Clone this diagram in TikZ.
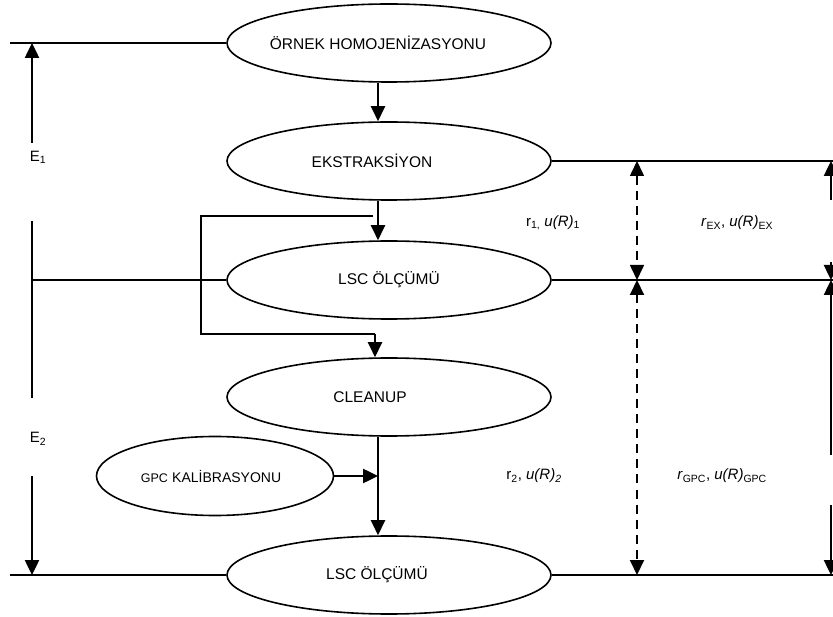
\documentclass[tikz,border=0pt]{standalone}
\usepackage{fontspec}
\setmainfont{Liberation Sans}
\usetikzlibrary{shapes.geometric,arrows.meta}
\begin{document}
\begin{tikzpicture}[x=1pt,y=-1pt,
  ell/.style={ellipse,draw,line width=1.6pt,minimum width=324pt,minimum height=78pt,inner sep=0pt},
  txt/.style={font=\fontsize{15.5}{18}\selectfont,inner sep=0pt},
  lbl/.style={font=\fontsize{15}{18}\selectfont,inner sep=0pt},
  ln/.style={line width=1.6pt},
  arr/.style={line width=2.5pt,-{Triangle[length=15pt,width=14pt]}},
  darr/.style={line width=2pt,dash pattern=on 9pt off 6pt,{Triangle[length=15pt,width=14pt]}-{Triangle[length=15pt,width=14pt]}}]
\fill[white] (0,0) rectangle (833,617);
\useasboundingbox (0,0) rectangle (833,617);
% ellipses
\node[ell] (e1) at (389,43) {};
\node[ell] (e2) at (389,161) {};
\node[ell] (e3) at (389,280) {};
\node[ell] (e4) at (389,397) {};
\node[ell,minimum width=237pt,minimum height=79pt] (e5) at (215,476) {};
\node[ell] (e6) at (389,575) {};
% texts
\node[txt] (t1) at (378,43) {ÖRNEK HOMOJENİZASYONU};
\node[txt] (t2) at (372,161) {EKSTRAKSİYON};
\node[txt] (t3) at (389,280) {LSC ÖLÇÜMÜ};
\node[txt] (t4) at (370,397) {CLEANUP};
\node[txt] (t5) at (211,476) {{\fontsize{12.5}{15}\selectfont GPC} {\fontsize{14}{17}\selectfont KALİBRASYONU}};
\node[txt] (t6) at (377,575) {LSC ÖLÇÜMÜ};
% coordinates
\coordinate (L) at (10,0);
\coordinate (A) at (32,0);
\coordinate (E) at (833,0);
\coordinate (R) at (831,0);
\coordinate (D) at (637,0);
\coordinate (b1) at (373,216);
\coordinate (b2) at (201,216);
\coordinate (b3) at (201,334);
\coordinate (b4) at (375,334);
\coordinate (j) at (378,476);
\coordinate (a1) at (32,143);
\coordinate (a2) at (32,221);
\coordinate (a3) at (32,398);
\coordinate (a4) at (32,476);
% main flow
\draw[arr] ([xshift=-11pt]e1.south) -- ([xshift=-11pt]e2.north);
\draw[arr] ([xshift=-11pt]e2.south) -- ([xshift=-11pt]e3.north);
\draw[ln] (b1) -- (b2) -- (b3) -- (b4);
\draw[arr] (b4) -- (b4 |- e4.north);
\draw[arr] ([xshift=-11pt]e4.south) -- ([xshift=-11pt]e6.north);
\draw[arr] (e5.east) -- (j);
% left side
\draw[ln] (e1.west -| L) -- (e1.west);
\draw[arr] (a1) -- (e1.west -| A);
\node[lbl] (E1) at (38,157) {E\textsubscript{1}};
\draw[ln] (a2) -- (a3);
\draw[ln] (e3.west -| A) -- (e3.west);
\node[lbl] (E2) at (38,439) {E\textsubscript{2}};
\draw[arr] (a4) -- (e6.west -| A);
\draw[ln] (e6.west -| L) -- (e6.west);
% right side
\draw[ln] (e2.east) -- (e2.east -| E);
\draw[ln] (e3.east) -- (e3.east -| E);
\draw[ln] (e6.east) -- (e6.east -| E);
\draw[darr,line width=1.6pt] (e2.east -| D) -- (e3.east -| D);
\draw[darr] (e3.east -| D) -- (e6.east -| D);
\coordinate (r1) at (831,200);
\coordinate (r2) at (831,262);
\coordinate (r3) at (831,455);
\coordinate (r4) at (831,505);
\draw[arr] (r1) -- (e2.east -| R);
\draw[arr] (r2) -- (e3.east -| R);
\draw[arr] (r3) -- (e3.east -| R);
\draw[arr] (r4) -- (e6.east -| R);
% labels
\node[lbl] (l1) at (553,223) {r\textsubscript{1,} \textit{u(R)}\textsubscript{1}};
\node[lbl] (l2) at (737,223) {\textit{r}\textsubscript{EX}, \textit{u(R)}\textsubscript{EX}};
\node[lbl] (l3) at (534,476) {r\textsubscript{2}, \textit{u(R)\textsubscript{2}}};
\node[lbl] (l4) at (722,476) {\textit{r}\textsubscript{GPC}, \textit{u(R)}\textsubscript{GPC}};
\end{tikzpicture}
\end{document}
